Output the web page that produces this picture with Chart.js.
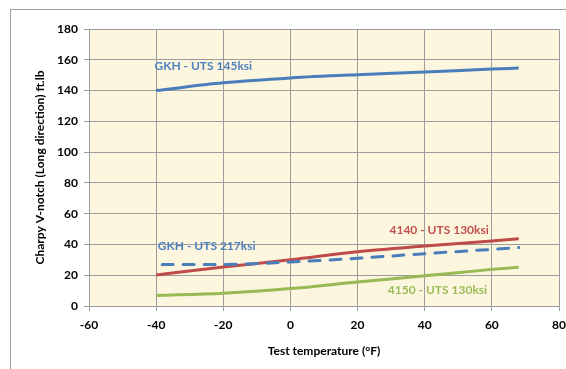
<!DOCTYPE html>
<html>
<head>
<meta charset="utf-8">
<script src="https://cdn.jsdelivr.net/npm/chart.js@4/dist/chart.umd.min.js"></script>
<style>
  html, body { margin: 0; padding: 0; background: #fff; }
  #wrap { position: relative; width: 566px; height: 369px; }
</style>
</head>
<body>
<div id="wrap"><canvas id="chart" width="566" height="369"></canvas></div>
<script>
// temperatures (°F) where values were read
const temps = [-40, -20, 0, 20, 40, 60, 68];

// Charpy V-notch energy, ft.lb
const gkh145 = [140, 145, 148.2, 150.3, 152, 154, 154.6];
const gkh217 = [27, 27, 28.6, 31, 34, 36.8, 38];
const s4140 = [20.2, 25.3, 30, 35.3, 39, 42.3, 43.7];
const s4150 = [6.8, 8.3, 11.3, 15.6, 19.6, 23.8, 25.2];

const seriesNames = ["GKH - UTS 145ksi", "GKH - UTS 217ksi", "4140 - UTS 130ksi", "4150 - UTS 130ksi"];

const xTicks = [-60, -40, -20, 0, 20, 40, 60, 80];
const yTicks = [0, 20, 40, 60, 80, 100, 120, 140, 160, 180];

function pts(ys) {
  return temps.map((t, i) => ({ x: t, y: ys[i] }));
}

// label anchors in data units (left x, middle y)
const labelSpots = [
  { text: seriesNames[0], x: -40.5, y: 156, color: "#4F81BD" },
  { text: seriesNames[1], x: -39.5, y: 39.2, color: "#4F81BD" },
  { text: seriesNames[2], x: 29.5, y: 49.2, color: "#C0504D" },
  { text: seriesNames[3], x: 29, y: 10, color: "#9BBB59" }
];

const gridColor = "#9c9c9c";
const font = { family: "Lato, 'Open Sans', sans-serif", size: 12, weight: "bold" };

const bgPlugin = {
  id: "bg",
  beforeDraw(chart) {
    const c = chart.ctx, a = chart.chartArea;
    c.save();
    c.strokeStyle = "#a0a0a0";
    c.lineWidth = 1;
    c.strokeRect(10.5, 9.5, 700, 500);
    c.fillStyle = "#fcf6df";
    c.fillRect(a.left, a.top, a.right - a.left, a.bottom - a.top);
    c.restore();
  }
};

const labelPlugin = {
  id: "labels",
  afterDatasetsDraw(chart) {
    const c = chart.ctx;
    const xs = chart.scales.x, ys = chart.scales.y;
    c.save();
    c.font = "bold 12px Lato, 'Open Sans', sans-serif";
    c.textBaseline = "middle";
    c.textAlign = "left";
    labelSpots.forEach(l => {
      c.fillStyle = l.color;
      c.fillText(l.text, xs.getPixelForValue(l.x), ys.getPixelForValue(l.y));
    });
    c.restore();
  }
};

new Chart(document.getElementById("chart"), {
  type: "line",
  data: {
    datasets: [
      { label: seriesNames[0], data: pts(gkh145), borderColor: "#4A7EBB", borderWidth: 3 },
      { label: seriesNames[1], data: pts(gkh217), borderColor: "#4A7EBB", borderWidth: 3,
        borderDash: [11, 10], borderDashOffset: 15, borderCapStyle: "round" },
      { label: seriesNames[2], data: pts(s4140), borderColor: "#BE4B48", borderWidth: 3 },
      { label: seriesNames[3], data: pts(s4150), borderColor: "#98B954", borderWidth: 3 }
    ]
  },
  options: {
    responsive: false,
    animation: false,
    events: [],
    layout: { padding: { left: 0, top: 29, right: 7, bottom: 0 } },
    elements: {
      point: { radius: 0 },
      line: { tension: 0.4, cubicInterpolationMode: "monotone", fill: false }
    },
    plugins: { legend: { display: false }, tooltip: { enabled: false } },
    scales: {
      x: {
        type: "linear",
        min: -60, max: 80,
        afterBuildTicks: s => { s.ticks = xTicks.map(v => ({ value: v })); },
        afterFit: s => { s.height = 63; s.paddingLeft = 0; s.paddingRight = 0; },
        grid: { color: gridColor, tickLength: 5 },
        border: { color: gridColor },
        ticks: { color: "#000", font: font, padding: 7 },
        title: { display: true, text: "Test temperature (°F)", color: "#000", font: font, padding: { top: 13, bottom: 11 } }
      },
      y: {
        min: 0, max: 180,
        afterBuildTicks: s => { s.ticks = yTicks.map(v => ({ value: v })); },
        afterFit: s => { s.width = 89; s.paddingTop = 0; s.paddingBottom = 0; },
        grid: { color: gridColor, tickLength: 5 },
        border: { color: gridColor },
        ticks: { color: "#000", font: font, padding: 6 },
        title: { display: true, text: "Charpy V-notch (Long direction) ft.lb", color: "#000", font: font, padding: { top: 33, bottom: 0 } }
      }
    }
  },
  plugins: [bgPlugin, labelPlugin]
});
</script>
</body>
</html>
